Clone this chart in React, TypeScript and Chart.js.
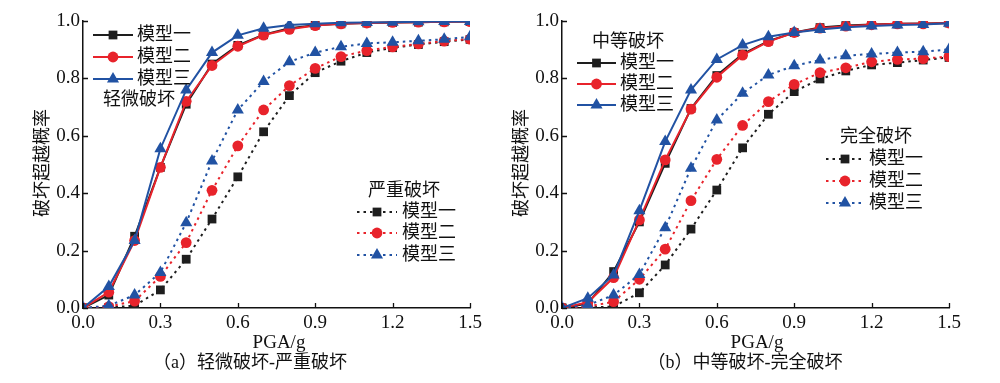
import React, { useEffect, useRef } from "react";
import { Chart, registerables } from "chart.js";

Chart.register(...registerables);

// ---------- data ----------
const pga = [0, 0.1, 0.2, 0.3, 0.4, 0.5, 0.6, 0.7, 0.8, 0.9, 1.0, 1.1, 1.2, 1.3, 1.4, 1.5];
const xTicks = [0, 0.3, 0.6, 0.9, 1.2, 1.5];
const yTicks = [0, 0.2, 0.4, 0.6, 0.8, 1.0];
const modelNames = ["模型一", "模型二", "模型三"];

// (a) 轻微破坏
const slight1 = [0, 0.045, 0.25, 0.49, 0.71, 0.85, 0.915, 0.952, 0.975, 0.985, 0.99, 0.993, 0.995, 0.996, 0.997, 0.998];
const slight2 = [0, 0.055, 0.235, 0.49, 0.72, 0.845, 0.912, 0.951, 0.971, 0.984, 0.99, 0.993, 0.995, 0.996, 0.997, 0.998];
const slight3 = [0, 0.075, 0.235, 0.555, 0.76, 0.89, 0.95, 0.975, 0.986, 0.99, 0.994, 0.995, 0.996, 0.997, 0.998, 0.998];
// (a) 严重破坏
const severe1 = [0, 0.002, 0.008, 0.063, 0.17, 0.31, 0.457, 0.614, 0.74, 0.82, 0.86, 0.89, 0.907, 0.918, 0.928, 0.936];
const severe2 = [0, 0.005, 0.024, 0.11, 0.228, 0.41, 0.565, 0.69, 0.775, 0.835, 0.876, 0.897, 0.91, 0.92, 0.93, 0.937];
const severe3 = [0, 0.008, 0.045, 0.124, 0.297, 0.512, 0.69, 0.789, 0.858, 0.89, 0.91, 0.922, 0.926, 0.931, 0.936, 0.945];
// (b) 中等破坏
const moderate1 = [0, 0.015, 0.127, 0.3, 0.504, 0.695, 0.81, 0.885, 0.93, 0.96, 0.977, 0.984, 0.988, 0.99, 0.991, 0.993];
const moderate2 = [0, 0.02, 0.106, 0.307, 0.516, 0.693, 0.804, 0.881, 0.928, 0.96, 0.975, 0.982, 0.987, 0.99, 0.99, 0.993];
const moderate3 = [0, 0.034, 0.115, 0.339, 0.58, 0.76, 0.866, 0.916, 0.945, 0.96, 0.97, 0.978, 0.983, 0.986, 0.988, 0.992];
// (b) 完全破坏
const complete1 = [0, 0.002, 0.005, 0.053, 0.15, 0.275, 0.411, 0.558, 0.675, 0.754, 0.798, 0.826, 0.847, 0.855, 0.864, 0.873];
const complete2 = [0, 0.005, 0.022, 0.1, 0.205, 0.374, 0.518, 0.636, 0.719, 0.779, 0.82, 0.837, 0.858, 0.866, 0.869, 0.876];
const complete3 = [0, 0.01, 0.045, 0.117, 0.28, 0.487, 0.655, 0.748, 0.812, 0.844, 0.864, 0.879, 0.885, 0.89, 0.893, 0.901];

// ---------- styles ----------
const COLORS = ["#1e1e1e", "#e8232b", "#2152a3"];
const POINT_STYLES = ["rect", "circle", "triangle"];
const POINT_RADII = [6.2, 5.4, 7];
const FONT = '"Liberation Serif", "Noto Sans CJK SC", serif';
const DOT_DASH = [2.5, 4];

function makeDatasets(solid: number[][], dotted: number[][]) {
  const mk = (vals: number[], i: number, dashed: boolean) => ({
    label: modelNames[i],
    data: pga.map((x, k) => ({ x, y: vals[k] })),
    borderColor: COLORS[i],
    backgroundColor: COLORS[i],
    pointBackgroundColor: COLORS[i],
    pointBorderColor: COLORS[i],
    pointBorderWidth: 0,
    pointStyle: POINT_STYLES[i],
    pointRadius: POINT_RADII[i],
    borderWidth: 2,
    borderDash: dashed ? DOT_DASH : [],
    tension: 0,
    fill: false,
    order: 3 - i,
  });
  return [
    ...solid.map((v, i) => mk(v, i, false)),
    ...dotted.map((v, i) => mk(v, i, true)),
  ];
}

function drawMarker(ctx: CanvasRenderingContext2D, style: string, x: number, y: number, r: number, color: string) {
  ctx.save();
  ctx.fillStyle = color;
  ctx.setLineDash([]);
  ctx.beginPath();
  if (style === "rect") {
    const s = r * Math.SQRT1_2;
    ctx.rect(x - s, y - s, 2 * s, 2 * s);
  } else if (style === "circle") {
    ctx.arc(x, y, r, 0, Math.PI * 2);
  } else {
    let rad = 0;
    ctx.moveTo(x + Math.sin(rad) * r, y - Math.cos(rad) * r);
    rad += (2 * Math.PI) / 3;
    ctx.lineTo(x + Math.sin(rad) * r, y - Math.cos(rad) * r);
    rad += (2 * Math.PI) / 3;
    ctx.lineTo(x + Math.sin(rad) * r, y - Math.cos(rad) * r);
    ctx.closePath();
  }
  ctx.fill();
  ctx.restore();
}

type LegendGroup = {
  title: string;
  titleX: number;
  titleY: number;
  x0: number;
  x1: number;
  textX: number;
  rows: number[];
  dsStart: number;
};

function makeOverlay(groups: LegendGroup[]) {
  return {
    id: "overlay",
    afterDraw(chart: any) {
      const ctx: CanvasRenderingContext2D = chart.ctx;
      const { left, bottom } = chart.chartArea;
      const xs = chart.scales.x;
      const ys = chart.scales.y;
      ctx.save();
      ctx.strokeStyle = "#111";
      ctx.lineWidth = 1.3;
      ctx.beginPath();
      xTicks.forEach((v) => {
        const px = Math.round(xs.getPixelForValue(v)) + 0.5;
        ctx.moveTo(px, bottom);
        ctx.lineTo(px, bottom - 5);
      });
      yTicks.forEach((v) => {
        const py = Math.round(ys.getPixelForValue(v)) + 0.5;
        ctx.moveTo(left, py);
        ctx.lineTo(left + 5, py);
      });
      ctx.stroke();

      ctx.font = `18px ${FONT}`;
      ctx.textBaseline = "middle";
      ctx.textAlign = "left";
      groups.forEach((g) => {
        ctx.fillStyle = "#111";
        ctx.fillText(g.title, g.titleX, g.titleY);
        g.rows.forEach((ry, i) => {
          const ds = chart.data.datasets[g.dsStart + i];
          ctx.save();
          ctx.strokeStyle = ds.borderColor;
          ctx.lineWidth = 2;
          ctx.setLineDash(ds.borderDash || []);
          ctx.beginPath();
          ctx.moveTo(g.x0, ry);
          ctx.lineTo(g.x1, ry);
          ctx.stroke();
          ctx.restore();
          drawMarker(ctx, ds.pointStyle, (g.x0 + g.x1) / 2, ry, ds.pointRadius, ds.borderColor);
          ctx.fillStyle = "#111";
          ctx.fillText(ds.label, g.textX, ry);
        });
      });
      ctx.restore();
    },
  };
}

function buildConfig(datasets: any[], groups: LegendGroup[]): any {
  const tickFont = { family: FONT, size: 19 };
  return {
    type: "line",
    data: { datasets },
    options: {
      responsive: false,
      maintainAspectRatio: false,
      animation: false,
      devicePixelRatio: 1,
      layout: { padding: { top: 21, right: 20, bottom: 0, left: 0 } },
      plugins: { legend: { display: false }, tooltip: { enabled: false }, title: { display: false } },
      scales: {
        x: {
          type: "linear",
          min: 0,
          max: 1.5,
          afterBuildTicks: (scale: any) => {
            scale.ticks = xTicks.map((v) => ({ value: v }));
          },
          afterFit: (scale: any) => {
            scale.height = 75;
          },
          grid: { display: false, drawTicks: false },
          border: { display: true, color: "#111", width: 1.5 },
          ticks: {
            font: tickFont,
            color: "#111",
            padding: 4,
            maxRotation: 0,
            autoSkip: false,
            callback: (v: number) => Number(v).toFixed(1),
          },
        },
        y: {
          type: "linear",
          min: 0,
          max: 1.0,
          afterBuildTicks: (scale: any) => {
            scale.ticks = yTicks.map((v) => ({ value: v }));
          },
          afterFit: (scale: any) => {
            scale.width = 83;
          },
          grid: { display: false, drawTicks: false },
          border: { display: true, color: "#111", width: 1.5 },
          ticks: {
            font: tickFont,
            color: "#111",
            padding: 3,
            autoSkip: false,
            callback: (v: number) => Number(v).toFixed(1),
          },
        },
      },
    },
    plugins: [makeOverlay(groups)],
  };
}

const leftGroups: LegendGroup[] = [
  { title: "轻微破坏", titleX: 103, titleY: 100, x0: 93, x1: 133, textX: 137, rows: [35, 57, 79], dsStart: 0 },
  { title: "严重破坏", titleX: 368, titleY: 191, x0: 357, x1: 397, textX: 402, rows: [212, 233, 255], dsStart: 3 },
];
const rightGroups: LegendGroup[] = [
  { title: "中等破坏", titleX: 113, titleY: 42, x0: 98, x1: 137, textX: 141, rows: [63, 84, 105], dsStart: 0 },
  { title: "完全破坏", titleX: 361, titleY: 137, x0: 347, x1: 385, textX: 390, rows: [159, 181, 203], dsStart: 3 },
];

const textStyle: React.CSSProperties = {
  position: "absolute",
  fontFamily: FONT,
  fontSize: 18,
  color: "#111",
  whiteSpace: "nowrap",
  lineHeight: 1,
};

export default function App() {
  const leftRef = useRef<HTMLCanvasElement>(null);
  const rightRef = useRef<HTMLCanvasElement>(null);

  useEffect(() => {
    const c1 = new Chart(
      leftRef.current as HTMLCanvasElement,
      buildConfig(makeDatasets([slight1, slight2, slight3], [severe1, severe2, severe3]), leftGroups)
    );
    const c2 = new Chart(
      rightRef.current as HTMLCanvasElement,
      buildConfig(makeDatasets([moderate1, moderate2, moderate3], [complete1, complete2, complete3]), rightGroups)
    );
    return () => {
      c1.destroy();
      c2.destroy();
    };
  }, []);

  return (
    <div style={{ position: "absolute", left: 0, top: 0, width: 1000, height: 383, background: "#fff", overflow: "hidden" }}>
      <canvas ref={leftRef} width={490} height={383} style={{ position: "absolute", left: 0, top: 0 }} />
      <canvas ref={rightRef} width={490} height={383} style={{ position: "absolute", left: 479, top: 0 }} />
      <div style={{ ...textStyle, left: 42, top: 163, transform: "translate(-50%, -50%) rotate(-90deg)" }}>破坏超越概率</div>
      <div style={{ ...textStyle, left: 521, top: 163, transform: "translate(-50%, -50%) rotate(-90deg)" }}>破坏超越概率</div>
      <div style={{ ...textStyle, fontSize: 19, left: 279, top: 341, transform: "translate(-50%, -50%)" }}>PGA/g</div>
      <div style={{ ...textStyle, fontSize: 19, left: 757, top: 341, transform: "translate(-50%, -50%)" }}>PGA/g</div>
      <div style={{ ...textStyle, left: 250, top: 362, transform: "translate(-50%, -50%)" }}>（a）轻微破坏-严重破坏</div>
      <div style={{ ...textStyle, left: 745, top: 362, transform: "translate(-50%, -50%)" }}>（b）中等破坏-完全破坏</div>
    </div>
  );
}
